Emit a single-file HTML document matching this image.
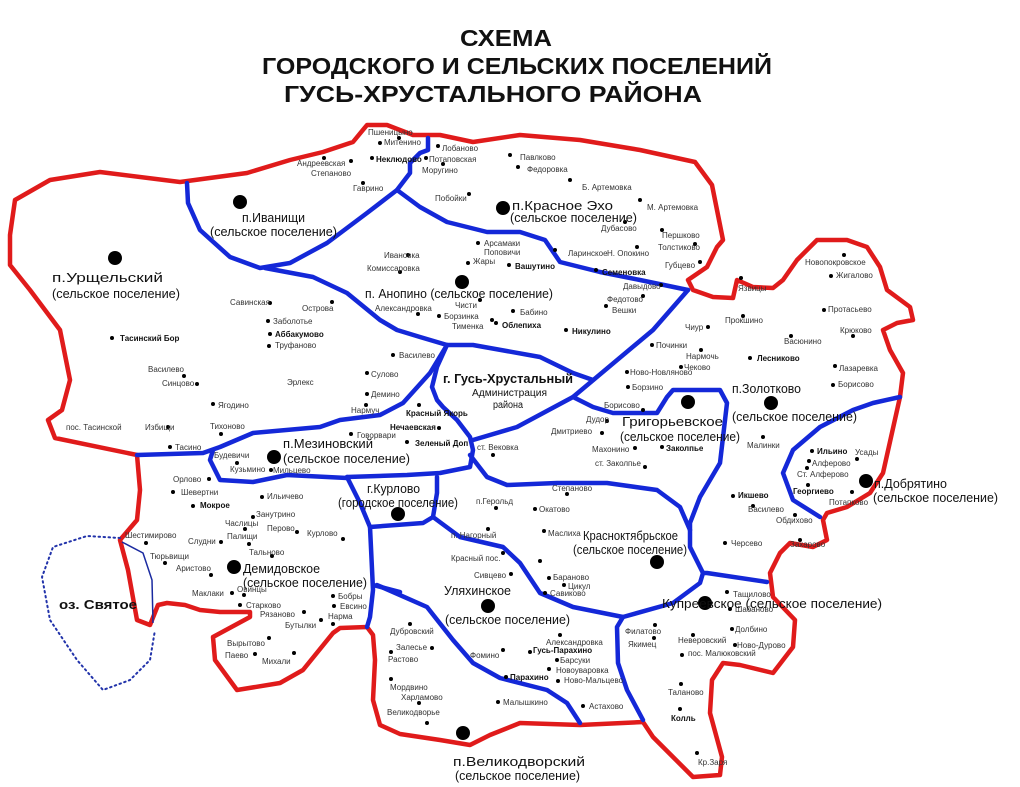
<!DOCTYPE html>
<html><head><meta charset="utf-8"><style>
html,body{margin:0;padding:0;background:#fff;}
svg{display:block;font-family:"Liberation Sans",sans-serif;}
.v{font-size:8px;fill:#333;}
.b{font-size:8px;fill:#111;font-weight:bold;}
.c{font-size:13px;fill:#111;}
</style></head><body>
<svg width="1020" height="787" viewBox="0 0 1020 787" xmlns="http://www.w3.org/2000/svg">
<rect width="1020" height="787" fill="#fff"/>
<g font-weight="bold" fill="#111" font-size="23">
<text x="460" y="46" textLength="92" lengthAdjust="spacingAndGlyphs">СХЕМА</text>
<text x="262" y="74" textLength="510" lengthAdjust="spacingAndGlyphs">ГОРОДСКОГО И СЕЛЬСКИХ ПОСЕЛЕНИЙ</text>
<text x="284" y="102" textLength="418" lengthAdjust="spacingAndGlyphs">ГУСЬ-ХРУСТАЛЬНОГО РАЙОНА</text>
</g>
<path d="M137,455 L55,438 L48,420 L62,410 L70,380 L60,330 L30,290 L10,265 L10,235 L15,200 L50,180 L100,172 L180,182 L247,173 L290,160 L323,152 L353,142 L367,125 L387,125 L413,135 L440,135 L473,142 L520,135 L580,140 L640,150 L695,162 L712,185 L718,215 L723,240 L717,247 L707,267 L688,280 L693,290 L713,297 L733,298 L737,280 L753,287 L773,288 L783,280 L797,260 L817,240 L847,240 L867,247 L880,267 L887,290 L910,307 L913,320 L897,323 L883,330 L890,350 L903,373 L900,397 L883,473 L870,493 L847,507 L827,513 L823,520 L827,540 L813,547 L790,543 L780,553 L770,573 L773,597 L795,620 L793,647 L773,673 L740,665 L723,663 L712,680 L710,713 L722,757 L720,775 L693,777 L653,737 L643,722 L580,725 L520,723 L490,735 L470,745 L440,740 L400,734 L380,725 L373,700 L375,660 L373,635 L367,627 L340,628 L333,633 L303,670 L280,683 L237,690 L215,660 L213,637 L250,617 L250,612 L220,612 L200,610 L185,605 L167,603 L158,605 L150,625 L137,620 L128,570 L120,540 L137,520 L140,490 Z" fill="none" stroke="#e01b1b" stroke-width="4.5" stroke-linejoin="round"/>
<path d="M120,538 L87,536 L53,547 L42,577 L50,620 L77,660 L103,690 L130,680 L150,660 L155,630" fill="none" stroke="#2233aa" stroke-width="2" stroke-dasharray="1.5,3.5" stroke-linecap="round"/>
<path d="M122,542 L143,553 L152,580 L153,623" fill="none" stroke="#1a2aa0" stroke-width="1.5"/>
<g fill="none" stroke="#1428d8" stroke-width="4.5" stroke-linejoin="round" stroke-linecap="round">
<path d="M428,138 L428,150 L420,153 L410,163 L410,173 L397,190 L367,213 L327,243 L290,263 L260,268 L230,257 L200,230 L188,203 L187,183"/>
<path d="M397,190 L420,207 L447,222 L487,232 L520,232 L545,240 L560,262 L600,272 L640,280 L688,290"/>
<path d="M265,268 L313,277 L347,293 L380,320 L397,330 L420,337 L447,345 L473,345 L540,357 L573,373 L593,380"/>
<path d="M447,345 L437,367 L432,387 L437,400 L443,407 L457,420 L470,437 L473,450 L470,467 L440,473 L407,475 L347,477"/>
<path d="M447,345 L430,373 L403,403 L380,415 L340,420 L320,427 L253,433 L220,447 L203,453 L137,455"/>
<path d="M213,450 L210,460 L220,480 L253,482 L287,475 L347,478"/>
<path d="M473,440 L517,427 L573,397 L653,330 L688,290"/>
<path d="M573,397 L593,407 L613,413 L657,413 L667,397 L673,390 L720,390 L727,403 L720,463 L700,497 L690,523 L690,547 L703,573"/>
<path d="M470,455 L487,477 L507,485 L557,483 L607,483 L657,490 L680,507 L690,530"/>
<path d="M347,477 L360,503 L370,527 L423,523 L433,517 L437,493 L437,477"/>
<path d="M433,517 L460,537 L503,547 L520,563 L540,593 L573,607 L623,617 L673,603 L700,583 L703,573 L707,573 L767,582"/>
<path d="M623,617 L617,627 L618,663 L627,690 L643,720"/>
<path d="M370,527 L373,590 L370,617 L367,627"/>
<path d="M373,585 L400,592"/>
<path d="M377,585 L427,607 L453,640 L473,663 L500,678 L547,690 L567,703 L580,723"/>
<path d="M900,397 L873,403 L853,410 L820,427 L793,450 L783,473 L793,500 L820,517"/>
</g>
<g fill="#000">
<circle cx="240" cy="202" r="7"/><circle cx="503" cy="208" r="7"/><circle cx="115" cy="258" r="7"/><circle cx="462" cy="282" r="7"/><circle cx="771" cy="403" r="7"/><circle cx="688" cy="402" r="7"/><circle cx="866" cy="481" r="7"/><circle cx="274" cy="457" r="7"/><circle cx="398" cy="514" r="7"/><circle cx="234" cy="567" r="7"/><circle cx="657" cy="562" r="7"/><circle cx="488" cy="606" r="7"/><circle cx="705" cy="603" r="7"/><circle cx="463" cy="733" r="7"/>
</g>
<g fill="#000">
<circle cx="399" cy="138" r="2"/><circle cx="380" cy="143" r="2"/><circle cx="324" cy="158" r="2"/><circle cx="351" cy="161" r="2"/><circle cx="372" cy="158" r="2"/><circle cx="426" cy="158" r="2"/><circle cx="438" cy="146" r="2"/><circle cx="443" cy="164" r="2"/><circle cx="363" cy="183" r="2"/><circle cx="469" cy="194" r="2"/>
<circle cx="510" cy="155" r="2"/><circle cx="518" cy="167" r="2"/><circle cx="570" cy="180" r="2"/><circle cx="640" cy="200" r="2"/><circle cx="625" cy="222" r="2"/><circle cx="662" cy="230" r="2"/><circle cx="695" cy="244" r="2"/><circle cx="700" cy="262" r="2"/><circle cx="555" cy="250" r="2"/><circle cx="637" cy="247" r="2"/><circle cx="596" cy="270" r="2"/><circle cx="661" cy="285" r="2"/><circle cx="643" cy="296" r="2"/><circle cx="606" cy="306" r="2"/><circle cx="566" cy="330" r="2"/><circle cx="496" cy="323" r="2"/>
<circle cx="478" cy="243" r="2"/><circle cx="509" cy="265" r="2"/><circle cx="468" cy="263" r="2"/><circle cx="408" cy="255" r="2"/><circle cx="400" cy="272" r="2"/><circle cx="418" cy="314" r="2"/><circle cx="480" cy="300" r="2"/><circle cx="439" cy="316" r="2"/><circle cx="492" cy="320" r="2"/><circle cx="513" cy="311" r="2"/>
<circle cx="270" cy="303" r="2"/><circle cx="332" cy="302" r="2"/><circle cx="268" cy="321" r="2"/><circle cx="270" cy="334" r="2"/><circle cx="269" cy="346" r="2"/><circle cx="112" cy="338" r="2"/><circle cx="184" cy="376" r="2"/><circle cx="197" cy="384" r="2"/><circle cx="213" cy="404" r="2"/><circle cx="168" cy="427" r="2"/><circle cx="221" cy="434" r="2"/><circle cx="170" cy="447" r="2"/>
<circle cx="393" cy="355" r="2"/><circle cx="367" cy="373" r="2"/><circle cx="367" cy="394" r="2"/><circle cx="366" cy="405" r="2"/><circle cx="419" cy="405" r="2"/><circle cx="439" cy="428" r="2"/><circle cx="351" cy="434" r="2"/><circle cx="407" cy="442" r="2"/><circle cx="237" cy="463" r="2"/><circle cx="271" cy="470" r="2"/>
<circle cx="209" cy="479" r="2"/><circle cx="173" cy="492" r="2"/><circle cx="193" cy="506" r="2"/><circle cx="262" cy="497" r="2"/><circle cx="253" cy="517" r="2"/><circle cx="245" cy="529" r="2"/><circle cx="297" cy="532" r="2"/><circle cx="343" cy="539" r="2"/><circle cx="221" cy="542" r="2"/><circle cx="249" cy="544" r="2"/><circle cx="272" cy="556" r="2"/><circle cx="146" cy="543" r="2"/><circle cx="165" cy="563" r="2"/><circle cx="211" cy="575" r="2"/><circle cx="232" cy="593" r="2"/><circle cx="244" cy="595" r="2"/><circle cx="240" cy="605" r="2"/><circle cx="304" cy="612" r="2"/><circle cx="333" cy="596" r="2"/><circle cx="334" cy="606" r="2"/><circle cx="333" cy="624" r="2"/><circle cx="321" cy="620" r="2"/><circle cx="269" cy="638" r="2"/><circle cx="255" cy="654" r="2"/><circle cx="294" cy="653" r="2"/>
<circle cx="410" cy="624" r="2"/><circle cx="432" cy="648" r="2"/><circle cx="391" cy="652" r="2"/><circle cx="391" cy="679" r="2"/><circle cx="419" cy="703" r="2"/><circle cx="427" cy="723" r="2"/><circle cx="503" cy="650" r="2"/><circle cx="506" cy="677" r="2"/><circle cx="498" cy="702" r="2"/><circle cx="583" cy="706" r="2"/><circle cx="560" cy="635" r="2"/><circle cx="530" cy="652" r="2"/><circle cx="557" cy="660" r="2"/><circle cx="549" cy="669" r="2"/><circle cx="558" cy="681" r="2"/>
<circle cx="727" cy="592" r="2"/><circle cx="730" cy="609" r="2"/><circle cx="732" cy="629" r="2"/><circle cx="693" cy="635" r="2"/><circle cx="735" cy="645" r="2"/><circle cx="682" cy="655" r="2"/><circle cx="655" cy="625" r="2"/><circle cx="654" cy="638" r="2"/><circle cx="681" cy="684" r="2"/><circle cx="680" cy="709" r="2"/><circle cx="697" cy="753" r="2"/>
<circle cx="496" cy="508" r="2"/><circle cx="535" cy="509" r="2"/><circle cx="567" cy="494" r="2"/><circle cx="488" cy="529" r="2"/><circle cx="544" cy="531" r="2"/><circle cx="503" cy="553" r="2"/><circle cx="540" cy="561" r="2"/><circle cx="511" cy="574" r="2"/><circle cx="549" cy="578" r="2"/><circle cx="564" cy="585" r="2"/><circle cx="545" cy="593" r="2"/><circle cx="493" cy="455" r="2"/><circle cx="607" cy="421" r="2"/><circle cx="602" cy="433" r="2"/><circle cx="635" cy="448" r="2"/><circle cx="662" cy="447" r="2"/><circle cx="645" cy="467" r="2"/><circle cx="643" cy="410" r="2"/><circle cx="628" cy="387" r="2"/><circle cx="627" cy="372" r="2"/><circle cx="681" cy="367" r="2"/><circle cx="701" cy="350" r="2"/><circle cx="652" cy="345" r="2"/><circle cx="708" cy="327" r="2"/><circle cx="743" cy="316" r="2"/><circle cx="741" cy="278" r="2"/>
<circle cx="844" cy="255" r="2"/><circle cx="831" cy="276" r="2"/><circle cx="824" cy="310" r="2"/><circle cx="853" cy="336" r="2"/><circle cx="791" cy="336" r="2"/><circle cx="750" cy="358" r="2"/><circle cx="835" cy="366" r="2"/><circle cx="833" cy="385" r="2"/><circle cx="763" cy="437" r="2"/><circle cx="812" cy="451" r="2"/><circle cx="857" cy="459" r="2"/><circle cx="809" cy="461" r="2"/><circle cx="807" cy="468" r="2"/><circle cx="808" cy="485" r="2"/><circle cx="852" cy="492" r="2"/><circle cx="733" cy="496" r="2"/><circle cx="753" cy="506" r="2"/><circle cx="795" cy="515" r="2"/><circle cx="725" cy="543" r="2"/><circle cx="800" cy="540" r="2"/>
</g>
<g class="v">
<text x="368" y="135">Пшеницыно</text><text x="384" y="145">Митенино</text><text x="297" y="166">Андреевская</text><text x="311" y="176">Степаново</text><text x="429" y="162">Потаповская</text><text x="442" y="151">Лобаново</text><text x="422" y="173">Моругино</text><text x="353" y="191">Гаврино</text><text x="435" y="201">Побойки</text>
<text x="520" y="160">Павлково</text><text x="527" y="172">Федоровка</text><text x="582" y="190">Б. Артемовка</text><text x="647" y="210">М. Артемовка</text><text x="601" y="231">Дубасово</text><text x="662" y="238">Першково</text><text x="658" y="250">Толстиково</text><text x="665" y="268">Губцево</text><text x="568" y="256">Ларинское</text><text x="607" y="256">Н. Опокино</text><text x="623" y="289">Давыдово</text><text x="607" y="302">Федотово</text><text x="612" y="313">Вешки</text>
<text x="484" y="246">Арсамаки</text><text x="484" y="255">Поповичи</text><text x="473" y="264">Жары</text><text x="384" y="258">Ивановка</text><text x="367" y="271">Комиссаровка</text><text x="375" y="311">Александровка</text><text x="455" y="308">Чисти</text><text x="444" y="319">Борзинка</text><text x="452" y="329">Тименка</text><text x="520" y="315">Бабино</text>
<text x="230" y="305">Савинская</text><text x="302" y="311">Острова</text><text x="273" y="324">Заболотье</text><text x="275" y="348">Труфаново</text><text x="148" y="372">Василево</text><text x="162" y="386">Синцово</text><text x="287" y="385">Эрлекс</text><text x="218" y="408">Ягодино</text><text x="66" y="430">пос. Тасинской</text><text x="145" y="430">Избищи</text><text x="210" y="429">Тихоново</text><text x="175" y="450">Тасино</text>
<text x="399" y="358">Василево</text><text x="371" y="377">Сулово</text><text x="371" y="397">Демино</text><text x="351" y="413">Нармуч</text><text x="357" y="438">Говорвари</text><text x="214" y="458">Будевичи</text><text x="230" y="472">Кузьмино</text><text x="273" y="473">Мильцево</text>
<text x="173" y="482">Орлово</text><text x="181" y="495">Шевертни</text><text x="267" y="499">Ильичево</text><text x="256" y="517">Занутрино</text><text x="225" y="526">Часлицы</text><text x="267" y="531">Перово</text><text x="307" y="536">Курлово</text><text x="188" y="544">Слудни</text><text x="227" y="539">Палищи</text><text x="249" y="555">Тальново</text><text x="125" y="538">Шестимирово</text><text x="150" y="559">Тюрьвищи</text><text x="176" y="571">Аристово</text><text x="192" y="596">Маклаки</text><text x="237" y="592">Овинцы</text><text x="246" y="608">Старково</text><text x="260" y="617">Рязаново</text><text x="338" y="599">Бобры</text><text x="340" y="609">Евсино</text><text x="328" y="619">Нарма</text><text x="285" y="628">Бутылки</text><text x="227" y="646">Вырытово</text><text x="225" y="658">Паево</text><text x="262" y="664">Михали</text>
<text x="390" y="634">Дубровский</text><text x="396" y="650">Залесье</text><text x="388" y="662">Растово</text><text x="390" y="690">Мордвино</text><text x="401" y="700">Харламово</text><text x="387" y="715">Великодворье</text><text x="470" y="658">Фомино</text><text x="503" y="705">Малышкино</text><text x="589" y="709">Астахово</text><text x="546" y="645">Александровка</text><text x="560" y="663">Барсуки</text><text x="556" y="673">Новоуваровка</text><text x="564" y="683">Ново-Мальцево</text>
<text x="733" y="597">Тащилово</text><text x="735" y="612">Шабаново</text><text x="735" y="632">Долбино</text><text x="678" y="643">Неверовский</text><text x="737" y="648">Ново-Дурово</text><text x="688" y="656">пос. Малюковский</text><text x="625" y="634">Филатово</text><text x="628" y="647">Якимец</text><text x="668" y="695">Таланово</text><text x="698" y="765">Кр.Заря</text>
<text x="476" y="504">п.Герольд</text><text x="539" y="512">Окатово</text><text x="552" y="491">Степаново</text><text x="451" y="538">п. Нагорный</text><text x="548" y="536">Маслиха</text><text x="451" y="561">Красный пос.</text><text x="474" y="578">Сивцево</text><text x="553" y="580">Бараново</text><text x="568" y="589">Цикул</text><text x="550" y="596">Савиково</text><text x="477" y="450">ст. Вековка</text><text x="586" y="422">Дудор</text><text x="551" y="434">Дмитриево</text><text x="592" y="452">Махонино</text><text x="595" y="466">ст. Заколпье</text><text x="604" y="408">Борисово</text><text x="632" y="390">Борзино</text><text x="630" y="375">Ново-Новляново</text><text x="684" y="370">Чеково</text><text x="686" y="359">Нармочь</text><text x="656" y="348">Починки</text><text x="685" y="330">Чиур</text><text x="725" y="323">Прокшино</text><text x="738" y="291">Язвицы</text>
<text x="805" y="265">Новопокровское</text><text x="836" y="278">Жигалово</text><text x="828" y="312">Протасьево</text><text x="840" y="333">Крюково</text><text x="784" y="344">Васюнино</text><text x="839" y="371">Лазаревка</text><text x="838" y="387">Борисово</text><text x="747" y="448">Малинки</text><text x="855" y="455">Усады</text><text x="812" y="466">Алферово</text><text x="797" y="477">Ст. Алферово</text><text x="829" y="505">Потапково</text><text x="748" y="512">Василево</text><text x="776" y="523">Обдихово</text><text x="731" y="546">Черсево</text><text x="790" y="547">Захарово</text>
</g>
<g class="b">
<text x="376" y="162">Неклюдово</text><text x="602" y="275">Семеновка</text><text x="572" y="334">Никулино</text><text x="502" y="328">Облепиха</text><text x="515" y="269">Вашутино</text><text x="275" y="337">Аббакумово</text><text x="120" y="341">Тасинский Бор</text><text x="406" y="416">Красный Якорь</text><text x="390" y="430">Нечаевская</text><text x="415" y="446">Зеленый Доп</text><text x="200" y="508">Мокрое</text><text x="510" y="680">Парахино</text><text x="533" y="653">Гусь-Парахино</text><text x="671" y="721">Колль</text><text x="666" y="451">Заколпье</text><text x="757" y="361">Лесниково</text><text x="817" y="454">Ильино</text><text x="793" y="494">Георгиево</text><text x="738" y="498">Икшево</text>
</g>
<g class="c">
<text x="242" y="222" textLength="63" lengthAdjust="spacingAndGlyphs">п.Иванищи</text>
<text x="210" y="236" textLength="127" lengthAdjust="spacingAndGlyphs">(сельское поселение)</text>
<text x="512" y="210" textLength="101" lengthAdjust="spacingAndGlyphs">п.Красное Эхо</text>
<text x="510" y="222" textLength="127" lengthAdjust="spacingAndGlyphs">(сельское поселение)</text>
<text x="52" y="282" textLength="111" lengthAdjust="spacingAndGlyphs">п.Урщельский</text>
<text x="52" y="298" textLength="128" lengthAdjust="spacingAndGlyphs">(сельское поселение)</text>
<text x="365" y="298" textLength="188" lengthAdjust="spacingAndGlyphs">п. Анопино (сельское поселение)</text>
<text x="443" y="383" font-weight="bold" textLength="130" lengthAdjust="spacingAndGlyphs">г. Гусь-Хрустальный</text>
<text x="472" y="396" font-size="10" textLength="75" lengthAdjust="spacingAndGlyphs">Администрация</text>
<text x="493" y="408" font-size="10" textLength="30" lengthAdjust="spacingAndGlyphs">района</text>
<text x="283" y="448" textLength="90" lengthAdjust="spacingAndGlyphs">п.Мезиновский</text>
<text x="283" y="463" textLength="127" lengthAdjust="spacingAndGlyphs">(сельское поселение)</text>
<text x="367" y="493" textLength="53" lengthAdjust="spacingAndGlyphs">г.Курлово</text>
<text x="338" y="507" textLength="120" lengthAdjust="spacingAndGlyphs">(городское поселение)</text>
<text x="243" y="573" textLength="77" lengthAdjust="spacingAndGlyphs">Демидовское</text>
<text x="243" y="587" textLength="124" lengthAdjust="spacingAndGlyphs">(сельское поселение)</text>
<text x="622" y="426" textLength="101" lengthAdjust="spacingAndGlyphs">Григорьевское</text>
<text x="620" y="441" textLength="120" lengthAdjust="spacingAndGlyphs">(сельское поселение)</text>
<text x="732" y="393" textLength="69" lengthAdjust="spacingAndGlyphs">п.Золотково</text>
<text x="732" y="421" textLength="125" lengthAdjust="spacingAndGlyphs">(сельское поселение)</text>
<text x="874" y="488" textLength="73" lengthAdjust="spacingAndGlyphs">п.Добрятино</text>
<text x="873" y="502" textLength="125" lengthAdjust="spacingAndGlyphs">(сельское поселение)</text>
<text x="583" y="540" textLength="95" lengthAdjust="spacingAndGlyphs">Красноктябрьское</text>
<text x="573" y="554" textLength="114" lengthAdjust="spacingAndGlyphs">(сельское поселение)</text>
<text x="444" y="595" textLength="67" lengthAdjust="spacingAndGlyphs">Уляхинское</text>
<text x="445" y="624" textLength="125" lengthAdjust="spacingAndGlyphs">(сельское поселение)</text>
<text x="662" y="608" textLength="220" lengthAdjust="spacingAndGlyphs">Купреевское (сельское поселение)</text>
<text x="453" y="766" textLength="132" lengthAdjust="spacingAndGlyphs">п.Великодворский</text>
<text x="455" y="780" textLength="125" lengthAdjust="spacingAndGlyphs">(сельское поселение)</text>
<text x="59" y="609" font-weight="bold" textLength="78" lengthAdjust="spacingAndGlyphs">оз. Святое</text>
</g>
</svg>
</body></html>
